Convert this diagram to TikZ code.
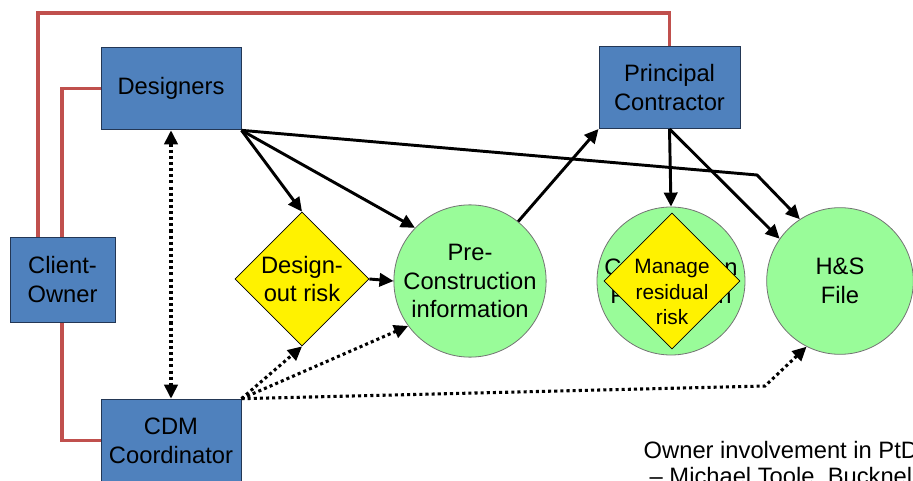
\documentclass[tikz,border=0pt]{standalone}
\usepackage{fontspec}
\setmainfont{Liberation Sans}
\usetikzlibrary{shapes.geometric,arrows.meta}
\definecolor{boxblue}{RGB}{79,129,189}
\definecolor{boxedge}{RGB}{35,55,85}
\definecolor{linered}{RGB}{192,80,77}
\definecolor{circgreen}{RGB}{153,252,153}
\begin{document}
\begin{tikzpicture}[x=0.75pt,y=-0.75pt,
  every node/.style={font=\fontsize{17.8}{21.7}\selectfont, align=center, text=black},
  actor/.style={draw=boxedge, line width=0.75pt, fill=boxblue, minimum width=105pt, minimum height=62pt, inner sep=0pt},
  task/.style={diamond, draw=black, line width=0.6pt, fill=yellow, minimum width=100.5pt, minimum height=100.5pt, inner sep=0pt, aspect=1},
  doc/.style={circle, draw=black!55, line width=0.6pt, fill=circgreen, minimum size=108pt, inner sep=0pt},
  flow/.style={line width=2.2pt, -{Triangle[length=10.5pt,width=10pt]}},
  info/.style={line width=2.3pt, dash pattern=on 2.3pt off 2.3pt, -{Triangle[length=10.5pt,width=10pt]}},
  dinfo/.style={line width=2.3pt, dash pattern=on 2.3pt off 2.3pt, {Triangle[length=10.5pt,width=10pt]}-{Triangle[length=10.5pt,width=10pt]}},
  role/.style={line width=2.3pt, draw=linered},
  note/.style={anchor=base west, align=left, font=\fontsize{17.8}{21}\selectfont}]
\useasboundingbox (0,0) rectangle (913,481);
\clip (0,0) rectangle (913,481);

% actors
\node[actor, minimum width=78.75pt, minimum height=63.75pt] (client) at (62.5,279.5) {Client-\\Owner};
\node[actor] (des) at (171,88.5) {Designers};
\node[actor] (cdm) at (171,440.5) {CDM\\Coordinator};
\node[actor, minimum width=105.75pt, minimum height=61.5pt] (pc) at (669.5,87.5) {Principal\\Contractor};

% tasks and documents
\node[task] (dor) at (302,279) {Design-\\out risk};
\node[doc] (pci) at (470,281) {Pre-\\Construction\\information};
\node[doc, minimum size=111pt] (cpp) at (671,281) {Construction\\Phase Plan};
\node[task, minimum width=102pt, minimum height=102pt] (mrr) at (672,281) {};
\node[font=\fontsize{15.6}{19}\selectfont] (mrrt) at (672,292) {Manage\\residual\\risk};
\node[doc, minimum size=110pt] (hs) at (840,281) {H\&S\\File};

% bend points
\coordinate (b1) at (757,175);
\coordinate (b2) at (765,386);
\coordinate (rtop) at (38,13);
\coordinate (rin) at (62,0);

% red role lines
\draw[role] (client.north -| rtop) -- (rtop) -| (pc.north);
\draw[role] (des.west) -| (client.north -| rin);
\draw[role] (client.south -| rin) |- (cdm.west);

% solid flows
\draw[flow] (des.south east) -- (dor.north);
\draw[flow] (des.south east) -- (pci.136);
\draw[flow] (dor.east) -- (pci.west);
\draw[flow] (pci.51) -- (pc.south west);
\draw[flow] (pc.south) -- (cpp.north);
\draw[flow] (pc.south) -- (hs.145);
\draw[flow] (des.south east) -- (b1) -- (hs.123);

% dotted information flows
\draw[dinfo] (des.south) -- (cdm.north);
\draw[info] (cdm.north east) -- (dor.south);
\draw[info] (cdm.north east) -- (pci.216);
\draw[info] (cdm.north east) -- (b2) -- (hs.243);

% note
\node[note] (n1) at (639,458) {Owner involvement in PtD};
\node[note] (n2) at (645,484) {– Michael Toole, Bucknell};
\end{tikzpicture}
\end{document}
